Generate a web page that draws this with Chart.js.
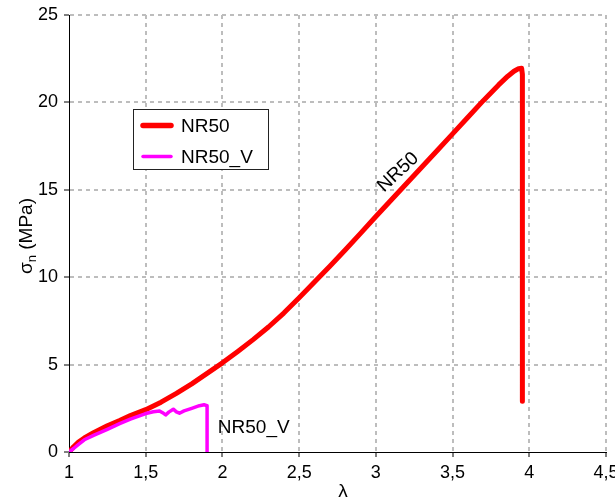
<!DOCTYPE html>
<html><head><meta charset="utf-8">
<script src="https://cdn.jsdelivr.net/npm/chart.js@4/dist/chart.umd.min.js"></script>
<style>html,body{margin:0;padding:0;background:#fff;}</style>
</head><body>
<canvas id="c" width="615" height="502"></canvas>
<script>
// ---- data ----
const seriesNames = ['NR50', 'NR50_V'];
const seriesColors = ['#ff0000', '#ff00ff'];
const nr50X = [1.00,1.03,1.06,1.10,1.16,1.25,1.33,1.40,1.50,1.60,1.70,1.80,1.90,2.00,2.10,2.20,2.30,2.40,2.50,2.60,2.70,2.80,2.90,3.00,3.10,3.20,3.30,3.40,3.50,3.60,3.70,3.80,3.86,3.90,3.93,3.95,3.955,3.955];
const nr50Y = [0,0.30,0.55,0.80,1.10,1.50,1.80,2.08,2.42,2.85,3.35,3.90,4.50,5.10,5.75,6.43,7.15,7.95,8.82,9.72,10.63,11.56,12.51,13.47,14.42,15.36,16.30,17.25,18.20,19.15,20.10,21.00,21.50,21.78,21.93,21.95,21.60,2.90];
const nr50vX = [1.00,1.03,1.06,1.10,1.16,1.25,1.33,1.40,1.50,1.55,1.59,1.61,1.63,1.65,1.68,1.70,1.72,1.75,1.80,1.85,1.88,1.90,1.90];
const nr50vY = [0,0.20,0.42,0.70,0.95,1.30,1.62,1.88,2.20,2.30,2.35,2.25,2.12,2.28,2.45,2.30,2.22,2.35,2.50,2.65,2.70,2.65,0];
const xTicks = [1, 1.5, 2, 2.5, 3, 3.5, 4, 4.5];
const yTicks = [0, 5, 10, 15, 20, 25];
const xTitle = 'λ';
const yTitleMain = 'σ', yTitleSub = 'n', yTitleRest = ' (MPa)';
const curveLabels = [
  { text: 'NR50', x: 3.145, y: 16.0, angle: -43 },
  { text: 'NR50_V', x: 1.97, y: 1.40, angle: 0 }
];

const FONT = '"Liberation Sans", Arial, sans-serif';
const toPts = (xs, ys) => xs.map((x, i) => ({ x: x, y: ys[i] }));
const fmt = v => String(v).replace('.', ',');

const overlay = {
  id: 'overlay',
  afterDraw(chart) {
    const ctx = chart.ctx;
    const xs = chart.scales.x, ys = chart.scales.y;
    ctx.save();
    // curve labels
    ctx.fillStyle = '#000';
    ctx.font = '19px ' + FONT;
    ctx.textBaseline = 'middle';
    curveLabels.forEach(l => {
      const px = xs.getPixelForValue(l.x), py = ys.getPixelForValue(l.y);
      ctx.save();
      ctx.translate(px, py);
      ctx.rotate(l.angle * Math.PI / 180);
      ctx.textAlign = l.angle ? 'center' : 'left';
      ctx.fillText(l.text, 0, 0);
      ctx.restore();
    });
    // legend
    const bx = 133.5, by = 109.5, bw = 135, bh = 60;
    ctx.fillStyle = '#fff';
    ctx.fillRect(bx, by, bw, bh);
    ctx.strokeStyle = '#222';
    ctx.lineWidth = 1;
    ctx.strokeRect(bx, by, bw, bh);
    const widths = [5.5, 3.5];
    const rowY = [125.5, 156.5];
    chart.data.datasets.forEach((ds, i) => {
      ctx.beginPath();
      ctx.lineCap = 'round';
      ctx.strokeStyle = ds.borderColor;
      ctx.lineWidth = widths[i];
      ctx.moveTo(143, rowY[i]);
      ctx.lineTo(171, rowY[i]);
      ctx.stroke();
      ctx.fillStyle = '#000';
      ctx.textAlign = 'left';
      ctx.textBaseline = 'middle';
      ctx.font = '19px ' + FONT;
      ctx.fillText(ds.label, 181, rowY[i] + 1);
    });
    // x title
    ctx.font = '19px ' + FONT;
    ctx.textAlign = 'center';
    ctx.textBaseline = 'middle';
    ctx.fillText(xTitle, 343, 492);
    // y title (rotated, with subscript)
    ctx.save();
    ctx.translate(25, 236);
    ctx.rotate(-Math.PI / 2);
    ctx.font = '19px ' + FONT;
    const wMain = ctx.measureText(yTitleMain).width;
    const wRest = ctx.measureText(yTitleRest).width;
    ctx.font = '13px ' + FONT;
    const wSub = ctx.measureText(yTitleSub).width;
    let sx = -(wMain + wSub + wRest) / 2;
    ctx.textAlign = 'left';
    ctx.textBaseline = 'alphabetic';
    ctx.font = '19px ' + FONT;
    ctx.fillText(yTitleMain, sx, 7);
    sx += wMain;
    ctx.font = '13px ' + FONT;
    ctx.fillText(yTitleSub, sx, 11);
    sx += wSub;
    ctx.font = '19px ' + FONT;
    ctx.fillText(yTitleRest, sx, 7);
    ctx.restore();
    ctx.restore();
  }
};

const gridColor = edgeVal => c => (c.tick && c.tick.value === edgeVal) ? 'rgba(0,0,0,0)' : '#bdbdbd';

new Chart(document.getElementById('c'), {
  type: 'line',
  data: {
    datasets: [
      { label: seriesNames[0], data: toPts(nr50X, nr50Y), borderColor: seriesColors[0], backgroundColor: seriesColors[0],
        borderWidth: 5, pointRadius: 0, tension: 0, fill: false, order: 1,
        borderCapStyle: 'round', borderJoinStyle: 'round' },
      { label: seriesNames[1], data: toPts(nr50vX, nr50vY), borderColor: seriesColors[1], backgroundColor: seriesColors[1],
        borderWidth: 3.5, pointRadius: 0, tension: 0, fill: false, order: 0,
        borderCapStyle: 'round', borderJoinStyle: 'round' }
    ]
  },
  options: {
    responsive: false,
    animation: false,
    devicePixelRatio: 1,
    layout: { padding: { left: 0, top: 15, right: 9, bottom: 0 } },
    plugins: { legend: { display: false }, tooltip: { enabled: false } },
    scales: {
      x: {
        type: 'linear', min: 1, max: 4.5,
        afterBuildTicks: s => { s.ticks = xTicks.map(v => ({ value: v })); },
        afterFit: s => { s.height = 50; s.paddingLeft = 0; s.paddingRight = 0; },
        ticks: { callback: v => fmt(v), color: '#000', font: { family: FONT, size: 18 }, padding: 5, maxRotation: 0, autoSkip: false },
        grid: { color: gridColor(1), lineWidth: 2, tickColor: '#000', tickLength: 5, tickWidth: 1 },
        border: { display: true, color: '#000', width: 1, dash: [4, 4] }
      },
      y: {
        type: 'linear', min: 0, max: 25,
        afterBuildTicks: s => { s.ticks = yTicks.map(v => ({ value: v })); },
        afterFit: s => { s.width = 69; s.paddingTop = 0; s.paddingBottom = 0; },
        ticks: { callback: v => fmt(v), color: '#000', font: { family: FONT, size: 18 }, padding: 6, autoSkip: false },
        grid: { color: gridColor(0), lineWidth: 2, tickColor: '#000', tickLength: 5, tickWidth: 1 },
        border: { display: true, color: '#000', width: 1, dash: [4, 4] }
      }
    }
  },
  plugins: [overlay]
});
</script>
</body></html>
